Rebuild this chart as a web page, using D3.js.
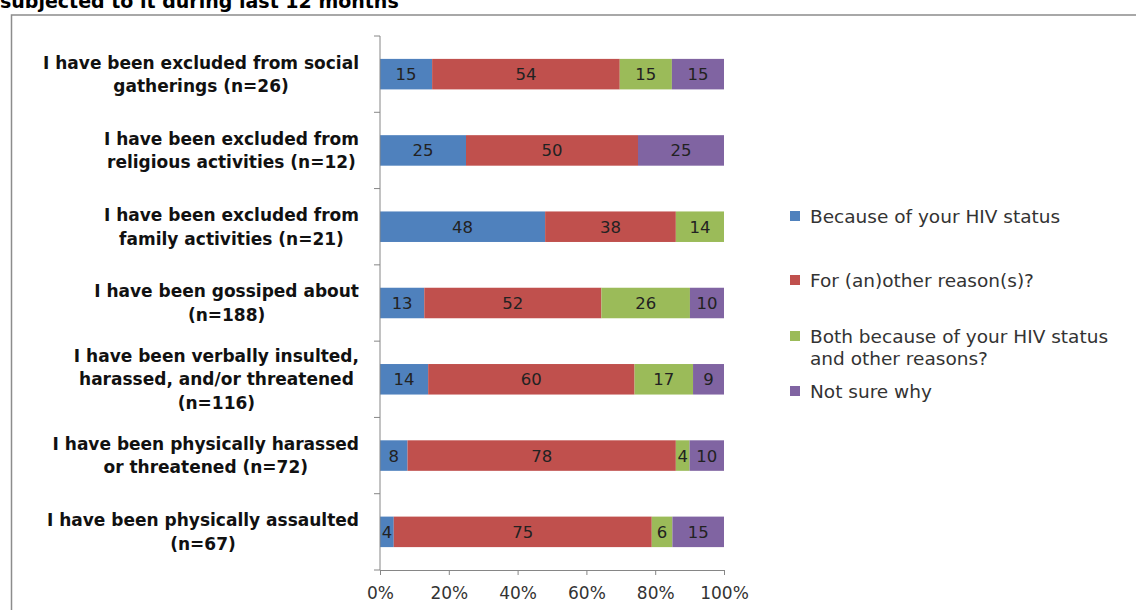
<!DOCTYPE html>
<html><head><meta charset="utf-8">
<script src="https://cdn.jsdelivr.net/npm/d3@7"></script>
<style>body{margin:0;background:#fff;}svg{display:block;}</style>
</head><body>
<svg id="c" width="1136" height="610"></svg>
<script>
(function(){
const categories = [
  ["I have been excluded from social","gatherings (n=26)"],
  ["I have been excluded from","religious activities (n=12)"],
  ["I have been excluded from","family activities (n=21)"],
  ["I have been gossiped about","(n=188)"],
  ["I have been verbally insulted,","harassed, and/or threatened","(n=116)"],
  ["I have been physically harassed","or threatened (n=72)"],
  ["I have been physically assaulted","(n=67)"]
];
const seriesNames = ["Because of your HIV status","For (an)other reason(s)?","Both because of your HIV status\nand other reasons?","Not sure why"];
const hivStatus   = [15,25,48,13,14,8,4];
const otherReason = [54,50,38,52,60,78,75];
const bothReasons = [15,0,14,26,17,4,6];
const notSure     = [15,25,0,10,9,10,15];
const xTicks = [0,0.2,0.4,0.6,0.8,1.0];
const colors = ["#4F81BD","#C0504D","#9BBB59","#8064A2"];

const svg = d3.select("#c");
const FONT = "DejaVu Sans, Verdana, sans-serif";
svg.append("text").attr("x",0).attr("y",8).attr("font-family",FONT).attr("font-weight","bold")
  .attr("font-size",19).attr("fill","#000").text("subjected to it during last 12 months");
svg.append("rect").attr("x",11.5).attr("y",15).attr("width",1300).attr("height",800)
  .attr("fill","none").attr("stroke","#8c8c8c").attr("stroke-width",1.5);

const pL=380,pR=724,pT=36,pB=570;
const x = d3.scaleLinear().domain([0,1]).range([pL,pR]);
const y = d3.scaleBand().domain(d3.range(categories.length)).range([pT,pB]).paddingInner(0.6).paddingOuter(0.3);
const series = [hivStatus,otherReason,bothReasons,notSure];
const rows = categories.map((c,i)=>{
  const vals = series.map(s=>s[i]); const tot = d3.sum(vals);
  let acc=0; return vals.map((v,k)=>{const s={k,v,x0:acc/tot,x1:(acc+v)/tot,i}; acc+=v; return s;});
});
const g = svg.append("g");
rows.forEach((r,i)=>{
  r.filter(s=>s.v>0).forEach(s=>{
    g.append("rect").attr("x",x(s.x0)).attr("y",y(i)).attr("width",x(s.x1)-x(s.x0)).attr("height",y.bandwidth())
      .attr("fill",colors[s.k]);
    g.append("text").attr("x",(x(s.x0)+x(s.x1))/2).attr("y",y(i)+y.bandwidth()/2).attr("dy","0.36em")
      .attr("text-anchor","middle").attr("font-family",FONT).attr("font-size",16.5).attr("fill","#222").text(s.v);
  });
});
const step = (pB-pT)/categories.length;
const axc="#868686";
svg.append("line").attr("x1",pL).attr("x2",pL).attr("y1",pT).attr("y2",pB).attr("stroke",axc);
d3.range(categories.length+1).forEach(k=>{
  const yy = pT+k*step;
  svg.append("line").attr("x1",pL-6).attr("x2",pL).attr("y1",yy).attr("y2",yy).attr("stroke",axc);
});
const xa = svg.append("g").attr("transform",`translate(0,${pB})`)
  .call(d3.axisBottom(x).tickValues(xTicks).tickFormat(d3.format(".0%")).tickSizeInner(5).tickSizeOuter(0));
xa.select(".domain").attr("stroke",axc);
xa.selectAll(".tick line").attr("stroke",axc);
xa.selectAll(".tick text").attr("font-family",FONT).attr("font-size",17).attr("fill","#333").attr("dy","1.25em");
categories.forEach((lines,i)=>{
  const cy = y(i)+y.bandwidth()/2;
  const lh = 23.5;
  const tg = svg.append("g");
  const ts = lines.map((l,j)=>tg.append("text").attr("font-family",FONT).attr("font-weight","bold").attr("font-size",17)
    .attr("fill","#111").attr("text-anchor","middle").attr("y",cy+(j-(lines.length-1)/2)*lh).attr("dy","0.36em").text(l));
  const w = d3.max(ts,t=>t.node().getComputedTextLength());
  ts.forEach(t=>t.attr("x",359-w/2));
});
const legY=[216,280,336,391];
seriesNames.forEach((n,k)=>{
  svg.append("rect").attr("x",790).attr("y",legY[k]-5).attr("width",10).attr("height",10).attr("fill",colors[k]);
  n.split("\n").forEach((l,j)=>{
    svg.append("text").attr("x",810).attr("y",legY[k]+j*22).attr("dy","0.36em").attr("font-family",FONT)
      .attr("font-size",18.5).attr("fill","#333").text(l);
  });
});
})();
</script>
</body></html>
